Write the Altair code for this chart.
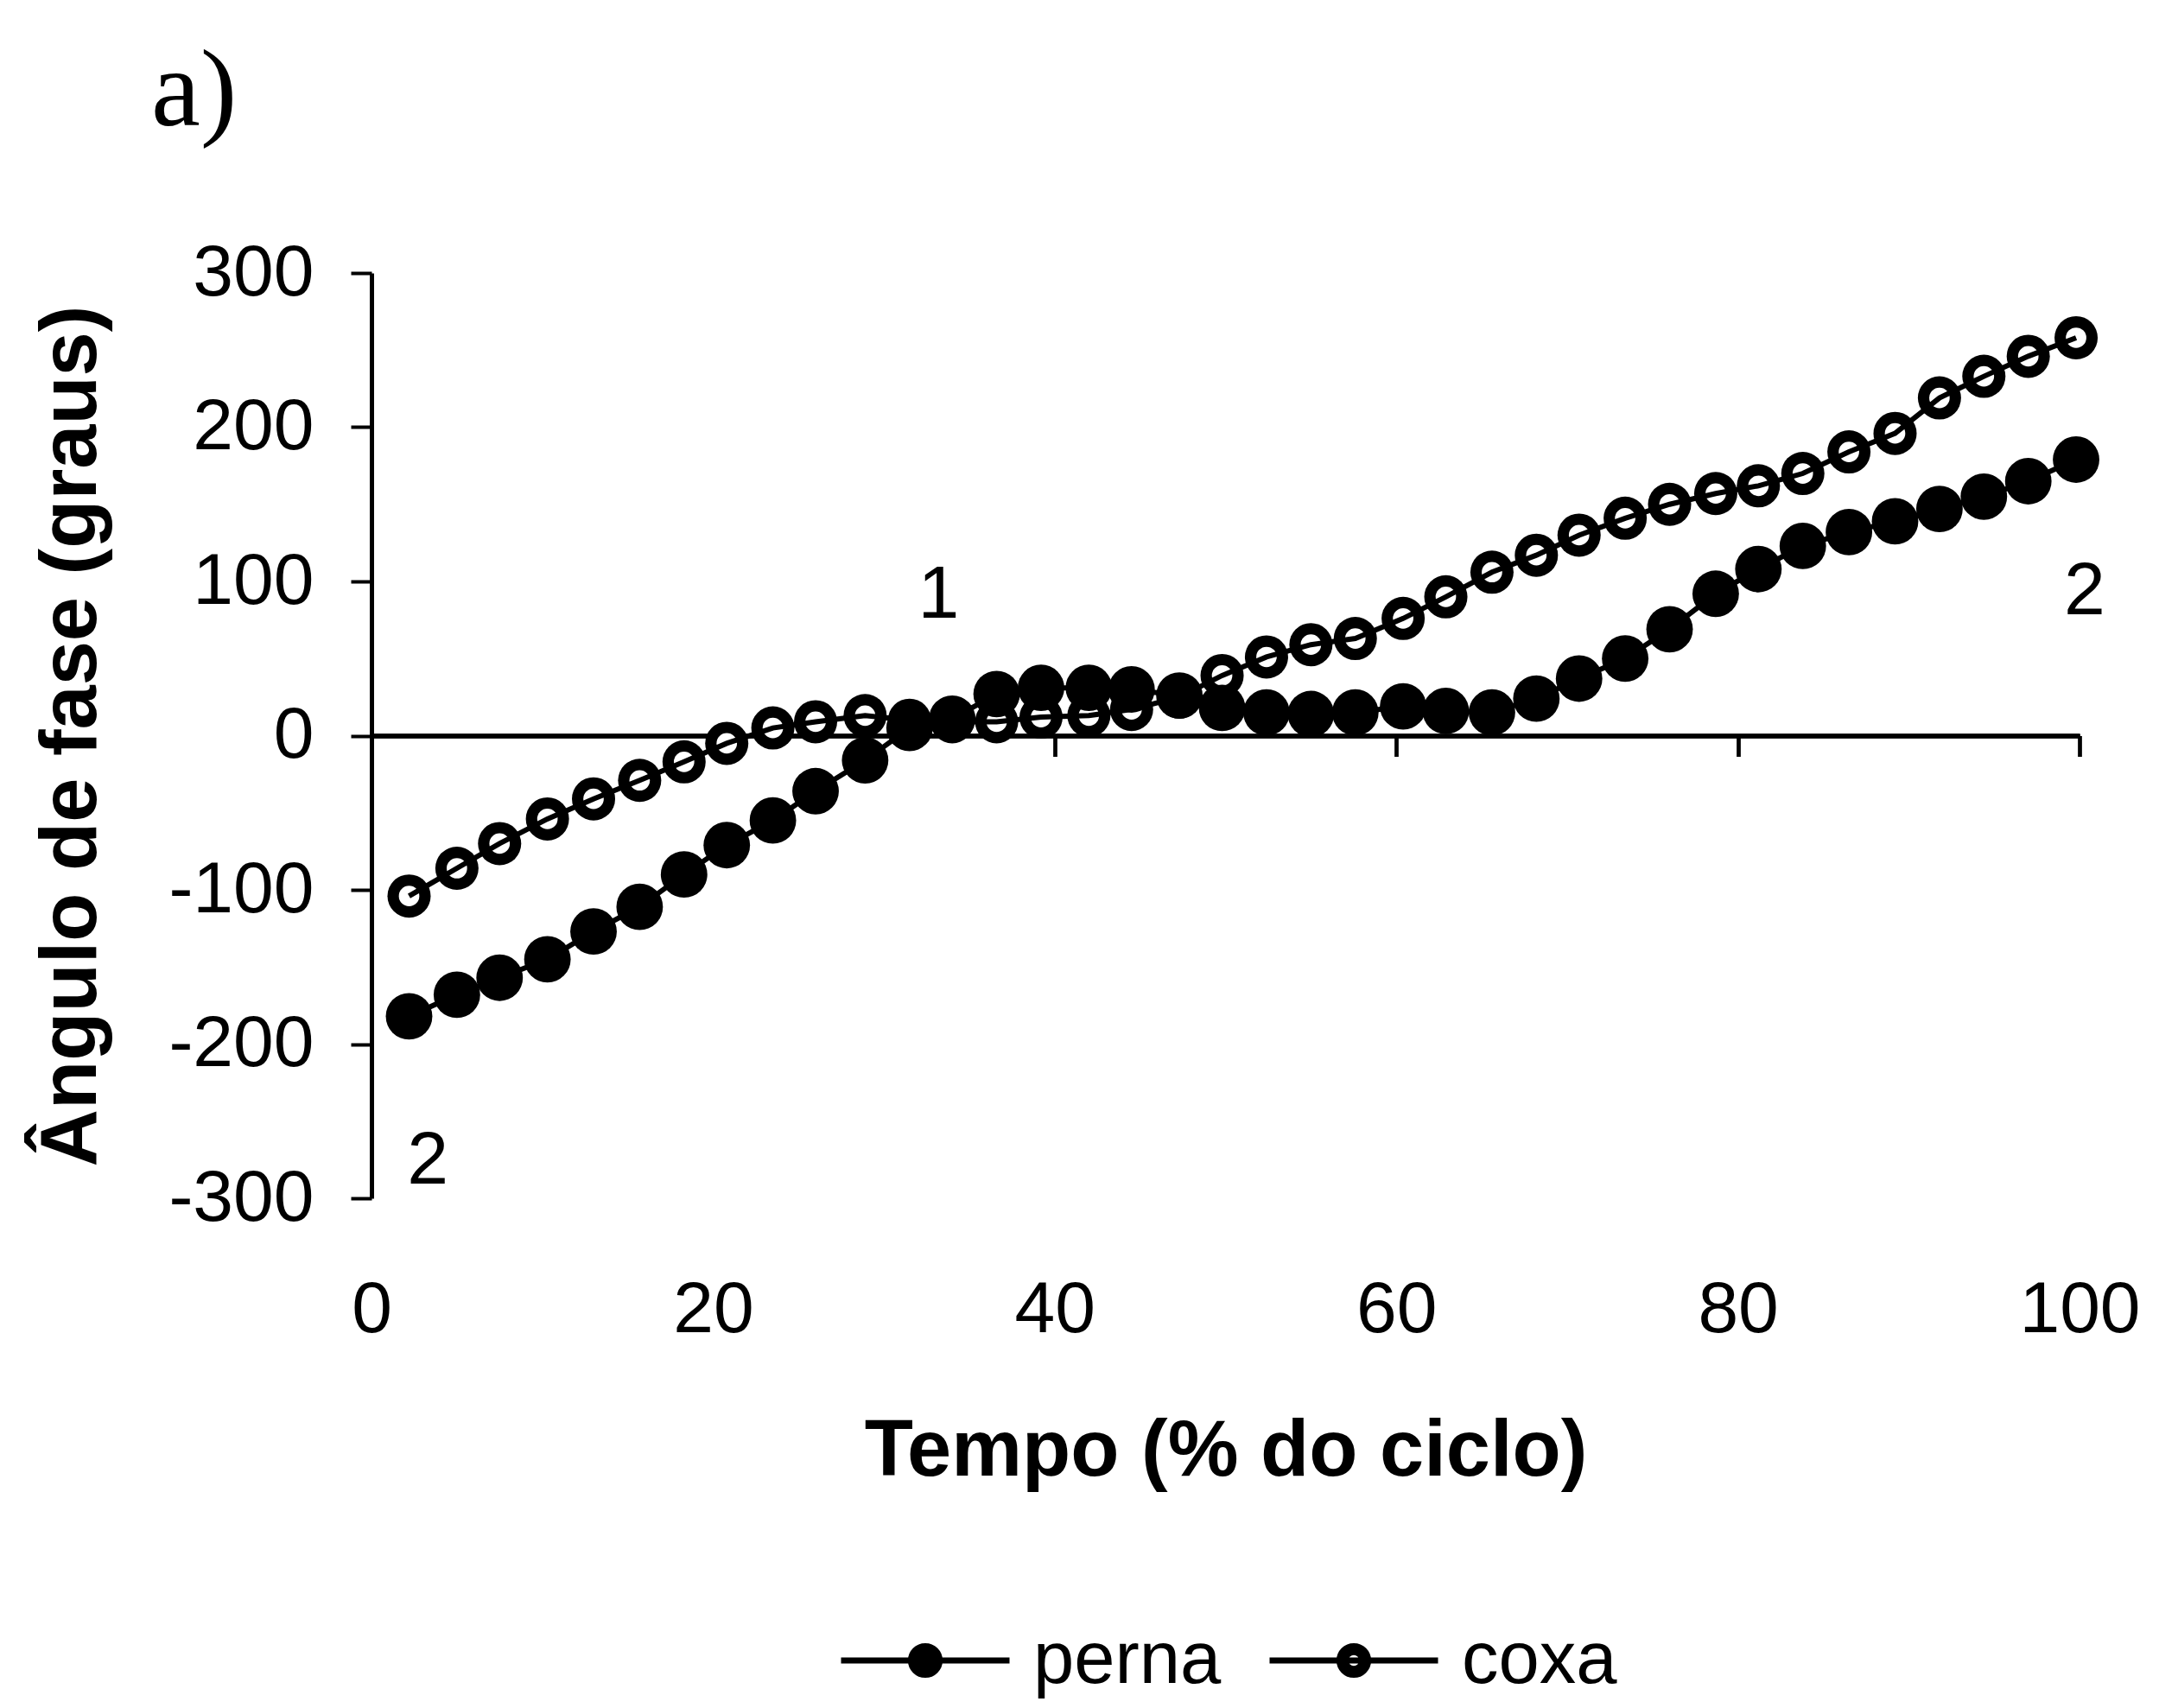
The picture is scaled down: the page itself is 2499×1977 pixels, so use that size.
import altair as alt
import pandas as pd

# ---- data ----
tempo = [2.2, 5.0, 7.5, 10.3, 13.0, 15.7, 18.3, 20.8, 23.5, 26.0,
         28.9, 31.5, 34.0, 36.6, 39.2, 42.0, 44.5, 47.3, 49.8, 52.4,
         55.0, 57.6, 60.4, 62.9, 65.6, 68.2, 70.7, 73.4, 76.0, 78.7,
         81.2, 83.8, 86.5, 89.2, 91.8, 94.4, 97.0, 99.8]
perna = [-182, -168, -157, -145, -127, -111, -90, -71, -55, -36,
         -16, 5, 11, 27, 31, 31, 30, 26, 18, 15,
         14, 15, 19, 16, 15, 24, 37, 50, 69, 92,
         108, 123, 132, 139, 147, 155, 165, 179]
coxa = [-104, -86, -70, -54, -41, -29, -17, -5, 5, 9,
        13, 10, 9, 9, 12, 13, 17, 25, 39, 51,
        59, 63, 76, 90, 106, 117, 130, 141, 150, 157,
        162, 170, 184, 196, 219, 233, 246, 258]
series_names = ["perna", "coxa"]

x_ticks = [0, 20, 40, 60, 80, 100]
y_ticks = [-300, -200, -100, 0, 100, 200, 300]

ann_text = ["1", "2", "2"]
ann_x = [33.2, 3.3, 100.3]
ann_y = [91, -276, 93]

panel_label = ["a)"]

# ---- tables ----
rows = []
for t, v in zip(tempo, coxa):
    rows.append({"series": "coxa", "t": t, "v": v})
for t, v in zip(tempo, perna):
    rows.append({"series": "perna", "t": t, "v": v})
df = pd.DataFrame(rows)
df_ann = pd.DataFrame({"t": ann_x, "v": ann_y, "txt": ann_text})
df_lab = pd.DataFrame({"txt": panel_label})

FONT = "Liberation Sans"
W, H = 1977, 1071

xscale = alt.Scale(domain=[0, 100], nice=False, zero=False)
yscale = alt.Scale(domain=[-300, 300], nice=False, zero=False)

yaxis = alt.Axis(
    values=y_ticks, grid=False,
    domain=True, domainColor="black", domainWidth=5,
    ticks=True, tickColor="black", tickWidth=4, tickSize=24,
    labelFont=FONT, labelFontSize=84, labelColor="black", labelPadding=43,
    labelFlush=False, labelExpr="'' + datum.value",
    title="Ângulo de fase (graus)", titleFont=FONT, titleFontSize=92,
    titleFontWeight="bold", titleColor="black", titleAngle=270,
    titleX=-320, titleY=H / 2, titleAlign="center", titleBaseline="alphabetic",
)

label_axis = alt.Axis(
    orient="bottom", values=x_ticks, grid=False,
    domain=False, ticks=False, tickSize=0,
    labelFont=FONT, labelFontSize=84, labelColor="black", labelPadding=88,
    labelBaseline="top", labelFlush=False,
    title="Tempo (% do ciclo)", titleFont=FONT, titleFontSize=92,
    titleFontWeight="bold", titleColor="black",
    titleY=320, titleBaseline="alphabetic",
)

zero_axis = alt.Axis(
    orient="bottom", values=x_ticks, grid=False, offset=-H / 2,
    domain=True, domainColor="black", domainWidth=5,
    ticks=True, tickColor="black", tickWidth=4, tickSize=24,
    labels=False, title="",
)

legend_symbol = ("M-1,0L1,0"
                 "M0.17,0A0.17,0.17,0,1,1,-0.17,0A0.17,0.17,0,1,1,0.17,0Z"
                 "M0.1,0A0.1,0.1,0,1,1,-0.1,0A0.1,0.1,0,1,1,0.1,0Z")

legend = alt.Legend(
    orient="none", legendX=540, legendY=1505, direction="horizontal",
    title=None, symbolType=legend_symbol, symbolSize=38025,
    symbolStrokeColor="black", symbolStrokeWidth=7, symbolOpacity=1,
    labelFont=FONT, labelFontSize=85, labelColor="black", labelOffset=24,
    labelLimit=1000, columnPadding=41, padding=0,
)

fill_enc = alt.Fill("series:N",
                    scale=alt.Scale(domain=series_names, range=["black", "white"]),
                    legend=legend)

x_enc_zero = alt.X("t:Q", scale=xscale, axis=zero_axis)
y_enc = alt.Y("v:Q", scale=yscale, axis=yaxis)

# open markers: black disc + white hole
coxa_disc = alt.Chart(df).transform_filter(
    alt.datum.series == "coxa"
).mark_circle(color="black", opacity=1, size=2500).encode(
    x=x_enc_zero, y=y_enc,
)

coxa_hole = alt.Chart(df).transform_filter(
    alt.datum.series == "coxa"
).mark_circle(opacity=1, size=560).encode(
    x=x_enc_zero, y=y_enc, fill=fill_enc,
)

perna_disc = alt.Chart(df).transform_filter(
    alt.datum.series == "perna"
).mark_circle(opacity=1, size=2900).encode(
    x=x_enc_zero, y=y_enc, fill=fill_enc,
)

lines = alt.Chart(df).mark_line(color="black", strokeWidth=6).encode(
    x=alt.X("t:Q", scale=xscale, axis=label_axis),
    y=y_enc,
    detail="series:N",
)

ann = alt.Chart(df_ann).mark_text(
    font=FONT, fontSize=86, color="black", align="center", baseline="middle"
).encode(
    x=alt.X("t:Q", scale=xscale, axis=None),
    y=y_enc,
    text="txt:N",
)

panel = alt.Chart(df_lab).mark_text(
    font="Liberation Serif", fontSize=128, color="black", align="left", baseline="alphabetic"
).encode(
    x=alt.value(-255), y=alt.value(-171), text="txt:N",
)

chart = alt.layer(coxa_disc, coxa_hole, perna_disc, lines, ann, panel).resolve_axis(
    x="independent"
).properties(
    width=W, height=H,
    autosize=alt.AutoSizeParams(type="none"),
    padding={"left": 422, "top": 308, "right": 84, "bottom": 582},
    background="white",
).configure_view(stroke=None)

chart.save("out.html", embed_options={"renderer": "svg", "actions": False})
